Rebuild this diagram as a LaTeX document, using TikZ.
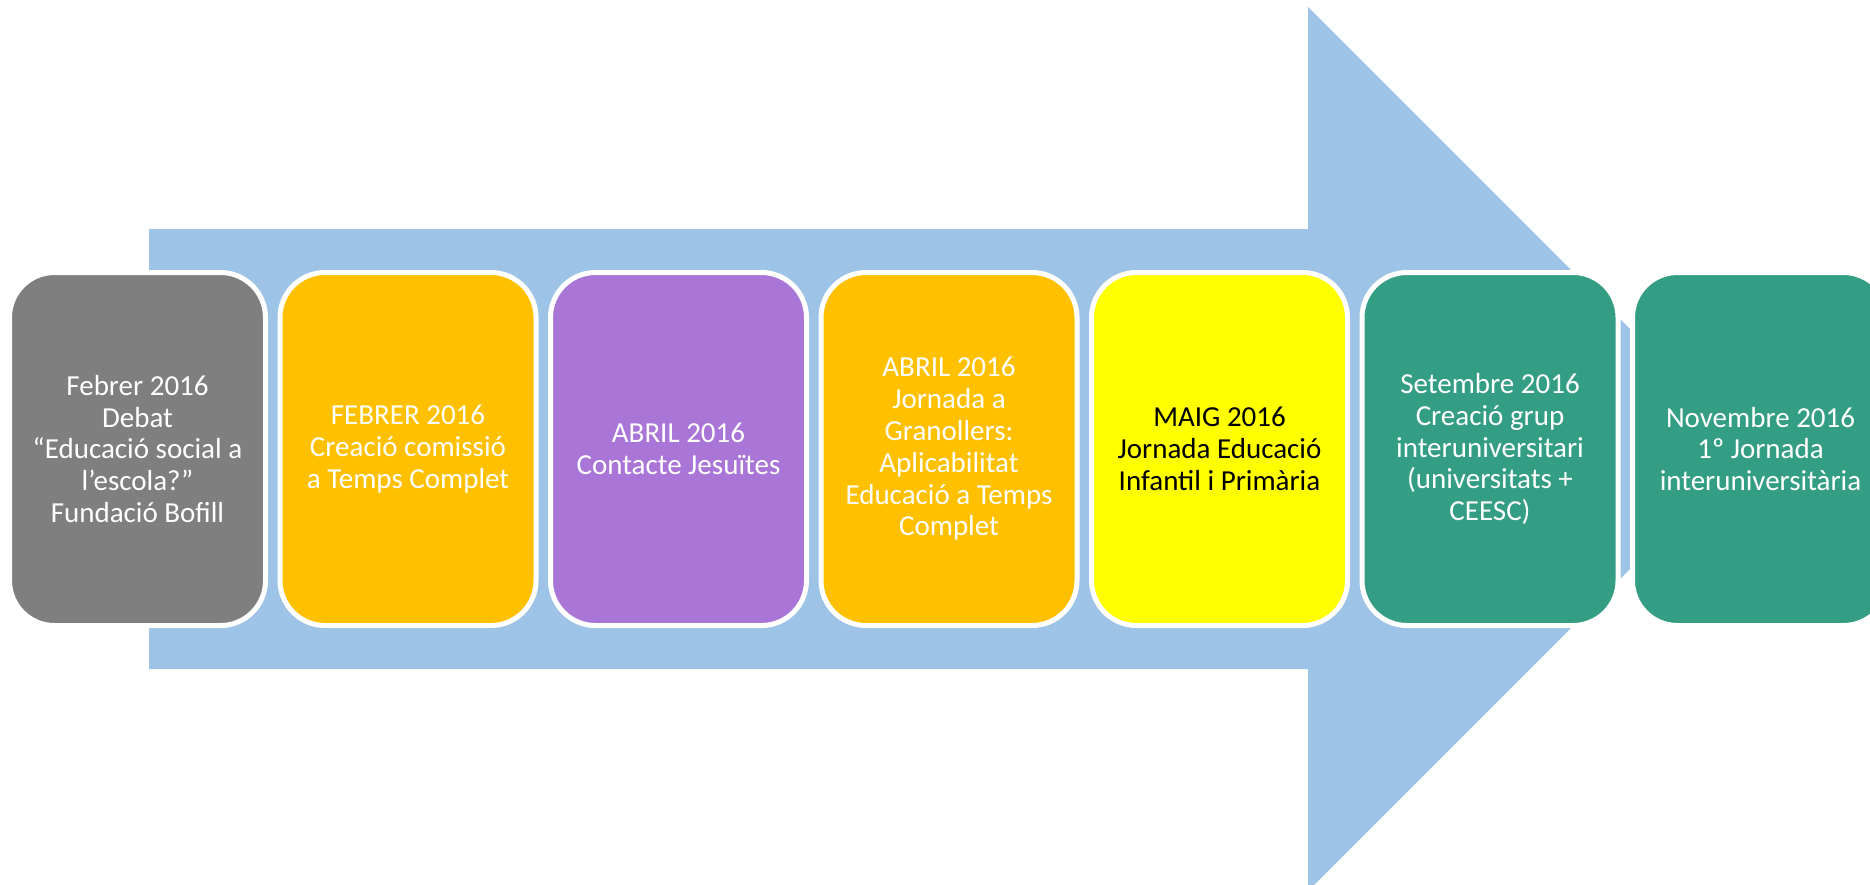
\documentclass[tikz,border=0pt]{standalone}
\usepackage{fontspec}
\setmainfont{Carlito}
\definecolor{arrowblue}{HTML}{9DC3E6}
\definecolor{boxgray}{HTML}{7F7F7F}
\definecolor{boxorange}{HTML}{FFC000}
\definecolor{boxpurple}{HTML}{A975D6}
\definecolor{boxyellow}{HTML}{FFFF00}
\definecolor{boxgreen}{HTML}{339E83}
\tikzset{
  event/.style={draw=white, line width=5pt, rounded corners=45pt,
    minimum width=256pt, minimum height=353pt, inner sep=0pt,
    align=center, text=white,
    font=\fontsize{29pt}{31.8pt}\selectfont},
}
\begin{document}
\begin{tikzpicture}[x=1pt,y=-1pt]
\useasboundingbox (0,0) rectangle (1870,884);
\clip (0,0) rectangle (1870,884);
% big arrow
\fill[arrowblue] (149,229) -- (1308,229) -- (1308,7) -- (1750,449)
  -- (1308,891) -- (1308,669) -- (149,669) -- cycle;
% events
\node[event, fill=boxgray]   (b1) at (137.5,449) {Febrer 2016\\Debat\\“Educació social a\\l’escola?”\\Fundació Bofill};
\node[event, fill=boxorange] (b2) at (408,449) {FEBRER 2016\\Creació comissió\\a Temps Complet};
\node[event, fill=boxpurple] (b3) at (678.5,449) {ABRIL 2016\\Contacte Jesuïtes};
\node[event, fill=boxorange] (b4) at (949,449) {ABRIL 2016\\Jornada a\\Granollers:\\Aplicabilitat\\Educació a Temps\\Complet};
\node[event, fill=boxyellow, text=black] (b5) at (1219.5,449) {MAIG 2016\\Jornada Educació\\Infantil i Primària};
\node[event, fill=boxgreen]  (b6) at (1490,449) {Setembre 2016\\Creació grup\\interuniversitari\\(universitats +\\CEESC)};
\node[event, fill=boxgreen]  (b7) at (1760.5,449) {Novembre 2016\\1º Jornada\\interuniversitària};
\end{tikzpicture}
\end{document}
